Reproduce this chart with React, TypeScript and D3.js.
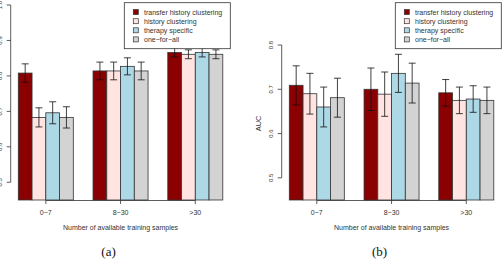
import React, { useEffect, useRef } from 'react';
import * as d3 from 'd3';

// groups on the x axis and the four compared methods
const groups = ['0−7', '8−30', '>30'];
const methods = ['transfer history clustering', 'history clustering', 'therapy specific', 'one−for−all'];
const colors = ['#8b0000', '#ffe4e1', '#add8e6', '#d3d3d3'];

// panel (a): mean and half-width of error bar, per group then per method
const meanA = [
  [0.808, 0.683, 0.696, 0.683],
  [0.814, 0.814, 0.827, 0.814],
  [0.866, 0.861, 0.866, 0.861],
];
const errA = [
  [0.026, 0.027, 0.031, 0.030],
  [0.025, 0.025, 0.024, 0.025],
  [0.0125, 0.0125, 0.0125, 0.0125],
];
const ticksA = [0.5, 0.6, 0.7, 0.8, 0.9, 1.0];

// panel (b): AUC
const meanB = [
  [0.709, 0.690, 0.660, 0.681],
  [0.700, 0.689, 0.736, 0.714],
  [0.692, 0.675, 0.678, 0.675],
];
const errB = [
  [0.044, 0.046, 0.045, 0.044],
  [0.048, 0.050, 0.043, 0.045],
  [0.030, 0.030, 0.030, 0.030],
];
const ticksB = [0.5, 0.6, 0.7, 0.8];

const SANS = 'Liberation Sans, Arial, sans-serif';
const SERIF = 'Liberation Serif, Times New Roman, serif';
const INK = '#333';

function drawPanel(svg, opt) {
  const { x0, means, errs, domain, top, ticks, ylabel, caption } = opt;
  const bottom = 200;
  const g = svg.append('g');

  const x = d3.scaleBand().domain(groups).range([x0, x0 + 204.5]).paddingInner(0.264);
  const xi = d3.scaleBand().domain(methods).range([0, x.bandwidth()]);
  const y = d3.scaleLinear().domain(domain).range([bottom, top]);

  // bars
  groups.forEach((grp, gi) => {
    methods.forEach((m, mi) => {
      const v = means[gi][mi];
      g.append('rect')
        .attr('x', x(grp) + xi(m))
        .attr('y', y(v))
        .attr('width', xi.bandwidth())
        .attr('height', y(domain[0]) - y(v))
        .attr('fill', colors[mi])
        .attr('stroke', INK)
        .attr('stroke-width', 0.8);
    });
  });

  // error bars
  groups.forEach((grp, gi) => {
    methods.forEach((m, mi) => {
      const cx = x(grp) + xi(m) + xi.bandwidth() / 2;
      const hi = y(means[gi][mi] + errs[gi][mi]);
      const lo = y(means[gi][mi] - errs[gi][mi]);
      const e = g.append('g').attr('stroke', '#111').attr('stroke-width', 0.8);
      e.append('line').attr('x1', cx).attr('x2', cx).attr('y1', hi).attr('y2', lo);
      e.append('line').attr('x1', cx - 3.5).attr('x2', cx + 3.5).attr('y1', hi).attr('y2', hi);
      e.append('line').attr('x1', cx - 3.5).attr('x2', cx + 3.5).attr('y1', lo).attr('y2', lo);
    });
  });

  // y axis, labels parallel to the axis
  const ax = x0 - 7.6;
  g.append('line')
    .attr('x1', ax).attr('x2', ax)
    .attr('y1', y(ticks[0])).attr('y2', y(ticks[ticks.length - 1]))
    .attr('stroke', INK).attr('stroke-width', 0.8);
  ticks.forEach(t => {
    g.append('line')
      .attr('x1', ax - 4).attr('x2', ax)
      .attr('y1', y(t)).attr('y2', y(t))
      .attr('stroke', INK).attr('stroke-width', 0.8);
    g.append('text')
      .attr('transform', `translate(${ax - 9},${y(t)}) rotate(-90)`)
      .attr('text-anchor', 'middle')
      .attr('font-family', SANS)
      .attr('font-size', 6)
      .attr('fill', INK)
      .text(t.toFixed(1));
  });
  g.append('text')
    .attr('transform', `translate(${ax - 21},${(y(ticks[0]) + y(ticks[ticks.length - 1])) / 2 + 12}) rotate(-90)`)
    .attr('text-anchor', 'middle')
    .attr('font-family', SANS)
    .attr('font-size', 7.5)
    .attr('fill', INK)
    .text(ylabel);

  // x axis
  const c0 = x(groups[0]) + x.bandwidth() / 2;
  const c1 = x(groups[groups.length - 1]) + x.bandwidth() / 2;
  g.append('line')
    .attr('x1', c0).attr('x2', c1).attr('y1', bottom + 0.5).attr('y2', bottom + 0.5)
    .attr('stroke', INK).attr('stroke-width', 0.8);
  groups.forEach(grp => {
    const cx = x(grp) + x.bandwidth() / 2;
    g.append('line')
      .attr('x1', cx).attr('x2', cx).attr('y1', bottom + 0.5).attr('y2', bottom + 4)
      .attr('stroke', INK).attr('stroke-width', 0.8);
    g.append('text')
      .attr('x', cx).attr('y', bottom + 14.5)
      .attr('text-anchor', 'middle')
      .attr('font-family', SANS).attr('font-size', 7).attr('fill', INK)
      .text(grp);
  });
  const mid = (c0 + c1) / 2;
  g.append('text')
    .attr('x', mid).attr('y', 229.5)
    .attr('text-anchor', 'middle')
    .attr('font-family', SANS).attr('font-size', 7).attr('fill', INK)
    .text('Number of available training samples');

  // legend
  const lx = x0 + 106;
  const leg = g.append('g');
  leg.append('rect')
    .attr('x', lx).attr('y', 2.7).attr('width', 106).attr('height', 46)
    .attr('fill', '#fff').attr('stroke', INK).attr('stroke-width', 0.8);
  methods.forEach((m, mi) => {
    const ly = 12.2 + mi * 9.1;
    leg.append('rect')
      .attr('x', lx + 9).attr('y', ly - 2.6).attr('width', 5).attr('height', 5)
      .attr('fill', colors[mi]).attr('stroke', INK).attr('stroke-width', 0.7);
    leg.append('text')
      .attr('x', lx + 19.7).attr('y', ly + 2.5)
      .attr('font-family', SANS).attr('font-size', 7).attr('fill', INK)
      .text(m);
  });

  // panel caption
  g.append('text')
    .attr('x', mid - 12).attr('y', 256)
    .attr('text-anchor', 'middle')
    .attr('font-family', SERIF).attr('font-size', 13).attr('fill', '#111')
    .text(caption);
}

const App = () => {
  const svgRef = useRef(null);

  useEffect(() => {
    const svg = d3.select(svgRef.current);
    svg.selectAll('*').remove();
    svg.append('rect').attr('width', 504).attr('height', 260).attr('fill', '#fff');

    drawPanel(svg, {
      x0: 18.3, means: meanA, errs: errA, domain: [0.45, 1.0], top: 5,
      ticks: ticksA, ylabel: 'AUC', caption: '(a)',
    });
    drawPanel(svg, {
      x0: 289.3, means: meanB, errs: errB, domain: [0.45, 0.8], top: 45,
      ticks: ticksB, ylabel: 'AUC', caption: '(b)',
    });
  }, []);

  return (
    <svg
      ref={svgRef}
      width={504}
      height={260}
      style={{ position: 'absolute', left: 0, top: 0, display: 'block' }}
    />
  );
};

export default App;
